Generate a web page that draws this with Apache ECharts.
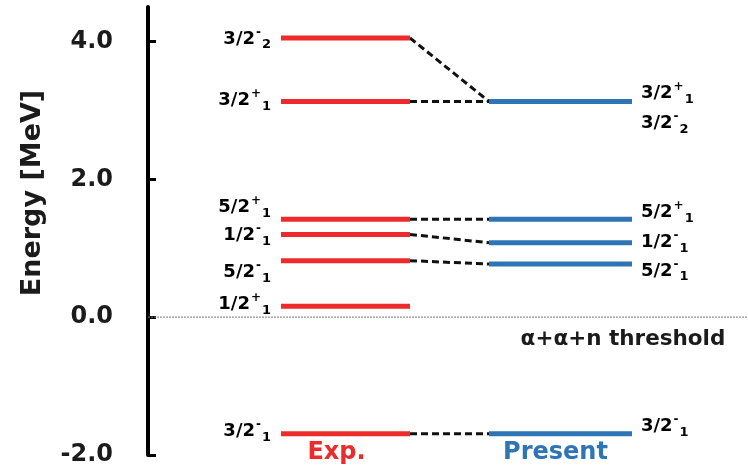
<!DOCTYPE html>
<html>
<head><meta charset="utf-8"></head>
<script type="text/javascript" src="https://cdn.jsdelivr.net/npm/echarts@6/dist/echarts.min.js"></script>
<body style="margin:0;background-color:white;">
    <div id="main" style="width: 748px;height:468px;"></div>
</body>
<script>
// states: J, parity, order
var spins = ['3/2', '1/2', '5/2', '1/2', '5/2', '3/2', '3/2'];
var parities = ['-', '+', '-', '-', '+', '+', '-'];
var orders = ['1', '1', '1', '1', '1', '1', '2'];
// energies [MeV]
var expEnergy = [-1.69, 0.16, 0.82, 1.20, 1.42, 3.13, 4.05];
var presentEnergy = [-1.69, null, 0.77, 1.08, 1.42, 3.13, 3.13];
var yTicks = [-2, 0, 2, 4];
var thresholdEnergy = 0;
var thresholdText = 'α+α+n threshold';
var captions = ['Exp.', 'Present'];

// layout (x in axis units = px from the y axis)
var EXP_X = [133, 262];
var PRES_X = [341, 484];
var expLabelShift = [-2, -2, 12, 1, -12, -1, 1];
var presLabelShift = [-7, 0, 7, 0, -7, -8, 22];
var RED = '#ee2b2b', BLUE = '#2e75b6', INK = '#1b1b1b';
var FONT = 'DejaVu Sans';

var rich = {
    m: {fontSize: 18, fontWeight: 'bold', fontFamily: FONT, color: INK},
    sp: {fontSize: 12, fontWeight: 'bold', fontFamily: FONT, color: INK, padding: [0, 1, 13, 1]},
    sb: {fontSize: 13, fontWeight: 'bold', fontFamily: FONT, color: INK, padding: [12, 0, 0, 0]}
};
function stateText(i) {
    return '{m|' + spins[i] + '}{sp|' + parities[i] + '}{sb|' + orders[i] + '}';
}

function levels(energy, xr, color, side, shift) {
    var data = [];
    energy.forEach(function (e, i) { if (e !== null) data.push([i, e]); });
    return {
        type: 'custom',
        data: data,
        encode: {x: 0, y: 1},
        renderItem: function (params, api) {
            var i = api.value(0), e = api.value(1);
            var p0 = api.coord([xr[0], e]);
            var p1 = api.coord([xr[1], e]);
            return {
                type: 'group',
                children: [
                    {type: 'line', shape: {x1: p0[0], y1: p0[1], x2: p1[0], y2: p1[1]},
                        style: {stroke: color, lineWidth: 5}},
                    {type: 'text', style: {
                        text: stateText(i), rich: rich,
                        x: side === 'left' ? p0[0] - 10 : p1[0] + 9,
                        y: p0[1] + shift[i],
                        align: side === 'left' ? 'right' : 'left',
                        verticalAlign: 'middle'}}
                ]
            };
        }
    };
}

var links = [];
expEnergy.forEach(function (e, i) {
    if (e !== null && presentEnergy[i] !== null) links.push([i, e, presentEnergy[i]]);
});

var myChart = echarts.init(document.getElementById('main'));

var option = {
    animation: false,
    grid: {left: 148, right: 0, top: 7, bottom: 13},
    xAxis: {type: 'value', min: 0, max: 600, show: false},
    yAxis: {
        type: 'value', min: -2, max: 4.5,
        splitLine: {show: false},
        axisLine: {show: true, lineStyle: {color: '#000', width: 4}},
        axisTick: {show: true, inside: true, length: 8, customValues: yTicks,
            lineStyle: {color: '#000', width: 3}},
        axisLabel: {customValues: yTicks, margin: 35, fontSize: 24, fontWeight: 'bold',
            fontFamily: FONT, color: INK,
            formatter: function (v) { return v.toFixed(1); }}
    },
    graphic: [{
        type: 'text', x: 33, y: 193, rotation: Math.PI / 2,
        style: {text: 'Energy [MeV]', fontSize: 27, fontWeight: 'bold', fontFamily: FONT,
            fill: INK, align: 'center', verticalAlign: 'middle'}
    }],
    series: [
        {   // threshold
            type: 'custom',
            data: [[0, thresholdEnergy]],
            encode: {x: 0, y: 1},
            renderItem: function (params, api) {
                var p0 = api.coord([0, api.value(1)]);
                var p1 = api.coord([600, api.value(1)]);
                var pt = api.coord([475, api.value(1)]);
                return {type: 'group', children: [
                    {type: 'line', shape: {x1: p0[0], y1: p0[1], x2: p1[0], y2: p1[1]},
                        style: {stroke: '#7a7a7a', lineWidth: 1, lineDash: [2, 1]}},
                    {type: 'text', style: {text: thresholdText, x: pt[0], y: pt[1] + 22,
                        align: 'center', verticalAlign: 'middle', fontSize: 21.5,
                        fontWeight: 'bold', fontFamily: FONT, fill: INK}}
                ]};
            }
        },
        {   // connectors
            type: 'custom',
            data: links,
            encode: {x: 0, y: 1},
            renderItem: function (params, api) {
                var p0 = api.coord([EXP_X[1], api.value(1)]);
                var p1 = api.coord([PRES_X[0], api.value(2)]);
                return {type: 'line', shape: {x1: p0[0], y1: p0[1], x2: p1[0], y2: p1[1]},
                    style: {stroke: '#111', lineWidth: 3, lineDash: [7, 4]}};
            }
        },
        levels(expEnergy, EXP_X, RED, 'left', expLabelShift),
        levels(presentEnergy, PRES_X, BLUE, 'right', presLabelShift),
        {   // column captions
            type: 'custom',
            data: [[0, -2], [1, -2]],
            encode: {x: 0, y: 1},
            renderItem: function (params, api) {
                var k = api.value(0);
                var xr = k === 0 ? EXP_X : PRES_X;
                var p = api.coord([(xr[0] + xr[1]) / 2 + (k === 0 ? -9 : -5), -2]);
                return {type: 'text', style: {text: captions[k], x: p[0], y: p[1] - 2,
                    align: 'center', verticalAlign: 'middle', fontSize: 24, fontWeight: 'bold',
                    fontFamily: FONT, fill: k === 0 ? RED : BLUE}};
            }
        }
    ]
};

option && myChart.setOption(option);
</script>
</html>
